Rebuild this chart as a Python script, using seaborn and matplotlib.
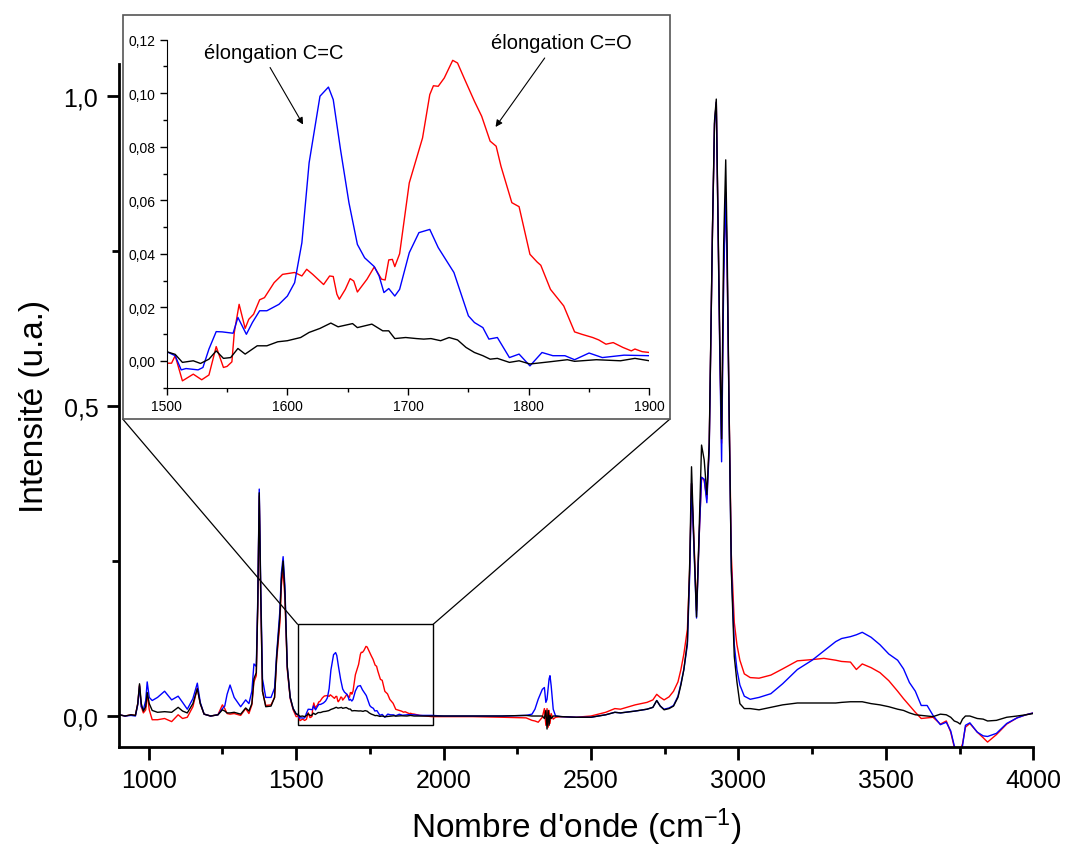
import matplotlib.pyplot as plt
import numpy as np
import seaborn as sns
from matplotlib.patches import Rectangle, ConnectionPatch
from matplotlib.ticker import MultipleLocator, FuncFormatter

# --- low wavenumber region (900-1490), shared grid ---
wn_low = [900, 920, 940, 955, 963, 969, 975, 982, 990, 995,
          1002, 1012, 1030, 1054, 1078, 1100, 1115, 1131, 1150, 1165,
          1175, 1188, 1210, 1235, 1250, 1258, 1266, 1276, 1290, 1312,
          1329, 1340, 1350, 1357, 1365, 1370, 1375, 1380, 1386, 1397,
          1415, 1427, 1434, 1445, 1450, 1456, 1462, 1470, 1480, 1490]
black_low = [0.002, 0.000, 0.002, 0.001, 0.020, 0.052, 0.020, 0.008, 0.015, 0.038,
             0.020, 0.009, 0.006, 0.007, 0.006, 0.014, 0.008, 0.005, 0.020, 0.044,
             0.020, 0.003, 0.000, 0.002, 0.010, 0.008, 0.005, 0.005, 0.006, 0.003,
             0.013, 0.008, 0.020, 0.060, 0.070, 0.180, 0.360, 0.200, 0.040, 0.015,
             0.016, 0.030, 0.095, 0.160, 0.220, 0.250, 0.200, 0.080, 0.030, 0.012]
blue_low = [0.002, 0.000, 0.001, 0.000, 0.018, 0.048, 0.015, 0.010, 0.025, 0.055,
            0.030, 0.025, 0.030, 0.040, 0.026, 0.032, 0.022, 0.011, 0.028, 0.053,
            0.022, 0.003, 0.000, 0.002, 0.012, 0.016, 0.035, 0.050, 0.030, 0.015,
            0.026, 0.020, 0.040, 0.084, 0.080, 0.190, 0.366, 0.210, 0.060, 0.030,
            0.030, 0.045, 0.100, 0.170, 0.230, 0.257, 0.210, 0.080, 0.030, 0.012]
red_low = [0.002, 0.000, 0.002, 0.001, 0.020, 0.050, 0.015, 0.005, 0.010, 0.036,
           0.010, -0.006, -0.006, -0.004, -0.009, 0.002, -0.004, -0.002, 0.015, 0.045,
           0.020, 0.003, 0.000, 0.002, 0.018, 0.012, 0.004, 0.003, 0.004, 0.001,
           0.012, 0.004, 0.018, 0.055, 0.065, 0.175, 0.355, 0.190, 0.040, 0.017,
           0.018, 0.030, 0.090, 0.150, 0.210, 0.237, 0.190, 0.075, 0.028, 0.010]

# --- 1500-1900 region (shown in the inset) ---
wn_mid_black = [1500, 1507, 1513, 1522, 1528, 1535, 1541, 1547, 1553, 1559,
                1565, 1575, 1583, 1592, 1600, 1611, 1618, 1627, 1636, 1642,
                1654, 1658, 1670, 1679, 1684, 1689, 1698, 1707, 1713, 1719,
                1727, 1734, 1741, 1748, 1755, 1762, 1768, 1774, 1784, 1792,
                1801, 1817, 1832, 1838, 1856, 1876, 1888, 1900]
black_mid = [0.0034, 0.0024, -0.0006, 0.0000, -0.0010, 0.0006, 0.0037, 0.0009, 0.0012, 0.0046,
             0.0025, 0.0056, 0.0056, 0.0071, 0.0075, 0.0087, 0.0106, 0.0121, 0.0141, 0.0127,
             0.0139, 0.0124, 0.0137, 0.0112, 0.0112, 0.0083, 0.0087, 0.0083, 0.0081, 0.0083,
             0.0075, 0.0087, 0.0078, 0.0050, 0.0031, 0.0019, 0.0006, 0.0009, -0.0006, 0.0000,
             -0.0012, -0.0004, 0.0004, -0.0002, 0.0004, 0.0000, 0.0009, 0.0000]

wn_mid_blue = [1500, 1507, 1512, 1516, 1526, 1530, 1535, 1541, 1546, 1555,
               1559, 1566, 1571, 1577, 1583, 1593, 1600, 1606, 1612, 1618,
               1627, 1634, 1638, 1644, 1651, 1658, 1664, 1672, 1676, 1680,
               1684, 1689, 1693, 1701, 1709, 1718, 1725, 1738, 1750, 1755,
               1762, 1767, 1774, 1784, 1792, 1801, 1811, 1820, 1830, 1838,
               1850, 1861, 1879, 1900]
blue_mid = [0.0034, 0.0019, -0.0034, -0.0029, -0.0034, -0.0025, 0.0044, 0.0109, 0.0108, 0.0103,
            0.0162, 0.0099, 0.0143, 0.0187, 0.0187, 0.0211, 0.0242, 0.0292, 0.0441, 0.0740,
            0.0989, 0.1023, 0.0976, 0.0790, 0.0591, 0.0435, 0.0385, 0.0352, 0.0317, 0.0255,
            0.0270, 0.0242, 0.0267, 0.0404, 0.0479, 0.0491, 0.0423, 0.0330, 0.0168, 0.0143,
            0.0124, 0.0081, 0.0087, 0.0012, 0.0025, -0.0019, 0.0031, 0.0019, 0.0019, 0.0004,
            0.0029, 0.0012, 0.0021, 0.0019]

wn_mid_red = [1500, 1504, 1507, 1513, 1522, 1529, 1535, 1541, 1547, 1550,
              1554, 1556, 1560, 1565, 1568, 1572, 1577, 1581, 1589, 1596,
              1606, 1612, 1616, 1621, 1630, 1635, 1638, 1641, 1643, 1648,
              1652, 1655, 1658, 1666, 1672, 1678, 1681, 1684, 1687, 1689,
              1693, 1701, 1712, 1718, 1721, 1725, 1730, 1737, 1741, 1747,
              1755, 1761, 1768, 1773, 1777, 1786, 1792, 1801, 1807, 1810,
              1818, 1829, 1838, 1844, 1853, 1858, 1864, 1870, 1878, 1885,
              1888, 1894, 1900]
red_mid = [-0.0009, -0.0009, 0.0019, -0.0075, -0.0050, -0.0071, -0.0053, 0.0053, -0.0025, -0.0021,
           -0.0004, 0.0106, 0.0211, 0.0121, 0.0155, 0.0174, 0.0228, 0.0236, 0.0292, 0.0323,
           0.0330, 0.0317, 0.0342, 0.0323, 0.0285, 0.0317, 0.0315, 0.0249, 0.0230, 0.0267,
           0.0307, 0.0298, 0.0257, 0.0305, 0.0351, 0.0305, 0.0302, 0.0377, 0.0379, 0.0352,
           0.0400, 0.0665, 0.0833, 0.0995, 0.1028, 0.1026, 0.1057, 0.1123, 0.1113, 0.1051,
           0.0970, 0.0914, 0.0821, 0.0802, 0.0727, 0.0591, 0.0576, 0.0398, 0.0369, 0.0357,
           0.0267, 0.0205, 0.0108, 0.0099, 0.0087, 0.0078, 0.0062, 0.0068, 0.0050, 0.0037,
           0.0044, 0.0034, 0.0031]

# --- high wavenumber region (1920-4000), shared grid ---
wn_high = [1920, 1960, 2000, 2100, 2200, 2280, 2300, 2310, 2321, 2335,
           2342, 2347, 2351, 2355, 2358, 2361, 2365, 2372, 2380, 2400,
           2450, 2500, 2550, 2581, 2600, 2650, 2690, 2710, 2723, 2735,
           2748, 2765, 2780, 2795, 2805, 2815, 2827, 2835, 2841, 2850,
           2858, 2867, 2875, 2884, 2893, 2901, 2912, 2919, 2925, 2931,
           2937, 2943, 2950, 2957, 2962, 2968, 2976, 2986, 2995, 3005,
           3020, 3040, 3070, 3110, 3150, 3200, 3250, 3290, 3330, 3350,
           3380, 3400, 3420, 3450, 3480, 3510, 3540, 3560, 3580, 3600,
           3620, 3640, 3660, 3685, 3705, 3720, 3732, 3743, 3752, 3760,
           3770, 3785, 3810, 3830, 3845, 3875, 3910, 3945, 3975, 4000]
black_high = [0.000, 0.000, 0.000, 0.000, 0.000, 0.001, 0.000, 0.000, 0.000, 0.000,
              -0.004, 0.009, -0.021, 0.009, -0.015, 0.001, -0.004, 0.000, 0.000, -0.001,
              -0.002, -0.002, 0.002, 0.006, 0.005, 0.008, 0.011, 0.014, 0.025, 0.016,
              0.010, 0.012, 0.016, 0.030, 0.050, 0.075, 0.120, 0.250, 0.402, 0.268,
              0.160, 0.302, 0.437, 0.413, 0.357, 0.440, 0.785, 0.960, 0.995, 0.800,
              0.600, 0.447, 0.760, 0.897, 0.750, 0.510, 0.234, 0.096, 0.055, 0.020,
              0.012, 0.012, 0.010, 0.014, 0.018, 0.021, 0.021, 0.021, 0.021, 0.022,
              0.023, 0.023, 0.023, 0.020, 0.018, 0.015, 0.011, 0.009, 0.005, 0.002,
              0.001, 0.000, -0.001, 0.003, 0.002, -0.002, -0.008, -0.010, -0.013, -0.005,
              0.000, 0.000, -0.004, -0.005, -0.008, -0.007, -0.002, 0.000, 0.002, 0.004]
blue_high = [0.001, 0.001, 0.000, 0.000, 0.000, 0.001, 0.003, 0.011, 0.027, 0.043,
             0.046, 0.022, 0.027, 0.045, 0.060, 0.065, 0.049, 0.011, 0.000, -0.001,
             -0.002, -0.002, 0.002, 0.006, 0.005, 0.008, 0.011, 0.014, 0.025, 0.016,
             0.011, 0.013, 0.017, 0.032, 0.052, 0.075, 0.115, 0.230, 0.375, 0.260,
             0.158, 0.290, 0.385, 0.382, 0.344, 0.430, 0.780, 0.955, 0.990, 0.790,
             0.580, 0.410, 0.700, 0.844, 0.720, 0.500, 0.240, 0.115, 0.075, 0.050,
             0.032, 0.027, 0.030, 0.036, 0.052, 0.075, 0.090, 0.105, 0.120, 0.125,
             0.128, 0.131, 0.135, 0.127, 0.115, 0.100, 0.090, 0.076, 0.054, 0.040,
             0.017, 0.017, 0.001, -0.014, -0.010, -0.024, -0.048, -0.060, -0.060, -0.048,
             -0.015, -0.011, -0.026, -0.032, -0.033, -0.028, -0.012, -0.003, 0.002, 0.005]
red_high = [0.001, -0.001, -0.001, -0.001, -0.002, -0.003, -0.007, -0.008, -0.010, -0.002,
            0.012, -0.015, 0.012, -0.018, 0.009, -0.012, 0.004, -0.005, -0.002, -0.001,
            -0.002, 0.000, 0.006, 0.012, 0.011, 0.018, 0.022, 0.026, 0.035, 0.030,
            0.026, 0.031, 0.040, 0.055, 0.075, 0.100, 0.140, 0.240, 0.375, 0.275,
            0.170, 0.290, 0.385, 0.380, 0.350, 0.435, 0.780, 0.955, 0.990, 0.795,
            0.590, 0.440, 0.720, 0.844, 0.720, 0.510, 0.260, 0.151, 0.115, 0.090,
            0.068, 0.062, 0.061, 0.066, 0.076, 0.089, 0.091, 0.093, 0.090, 0.088,
            0.087, 0.075, 0.084, 0.078, 0.070, 0.057, 0.040, 0.028, 0.017, 0.006,
            -0.004, -0.003, -0.002, -0.013, -0.008, -0.026, -0.050, -0.055, -0.055, -0.045,
            -0.018, -0.012, -0.026, -0.035, -0.042, -0.030, -0.013, -0.003, 0.002, 0.005]

wn_black = wn_low + wn_mid_black + wn_high
wn_blue = wn_low + wn_mid_blue + wn_high
wn_red = wn_low + wn_mid_red + wn_high
int_black = black_low + black_mid + black_high
int_blue = blue_low + blue_mid + blue_high
int_red = red_low + red_mid + red_high

sns.set_style('ticks')
plt.rcParams['font.family'] = ['Liberation Sans', 'DejaVu Sans']
plt.rcParams['mathtext.fontset'] = 'custom'
plt.rcParams['mathtext.rm'] = 'Liberation Sans'
plt.rcParams['mathtext.it'] = 'Liberation Sans:italic'
for key in ['text.color', 'axes.labelcolor', 'xtick.color', 'ytick.color', 'axes.edgecolor']:
    plt.rcParams[key] = 'black'

series = [(wn_red, int_red, 'red'), (wn_blue, int_blue, 'blue'), (wn_black, int_black, 'black')]
comma1 = FuncFormatter(lambda v, p: f'{v:.1f}'.replace('.', ','))
comma2 = FuncFormatter(lambda v, p: f'{v:.2f}'.replace('.', ','))

fig = plt.figure(figsize=(10.66, 8.54), dpi=100)

# main axes
ax = fig.add_axes([0.1118, 0.1241, 0.8575, 0.7998])
for x, y, c in series:
    sns.lineplot(x=x, y=y, color=c, lw=1.0, sort=False, estimator=None, ax=ax)
ax.set_xlim(900, 4000)
ax.set_ylim(-0.05, 1.0516)
ax.spines[['top', 'right']].set_visible(False)
for s in ['left', 'bottom']:
    ax.spines[s].set_linewidth(2)
ax.xaxis.set_major_locator(MultipleLocator(500))
ax.xaxis.set_minor_locator(MultipleLocator(250))
ax.yaxis.set_major_locator(MultipleLocator(0.5))
ax.yaxis.set_minor_locator(MultipleLocator(0.25))
ax.yaxis.set_major_formatter(comma1)
ax.tick_params(which='major', length=9, width=2, labelsize=18, pad=6)
ax.tick_params(which='minor', length=5, width=2)
ax.set_ylabel('Intensité (u.a.)', fontsize=24, labelpad=10)
ax.set_xlabel("Nombre d'onde (cm$^{-1}$)", fontsize=24, labelpad=10)

# zoom box on main chart
ax.add_patch(Rectangle((1505, -0.014), 460, 0.162, fill=False, edgecolor='black', lw=1.0))

# frame around the inset
frame = [0.1151, 0.5082, 0.5134, 0.4731]
fig.patches.append(Rectangle((frame[0], frame[1]), frame[2], frame[3], transform=fig.transFigure,
                             facecolor='white', edgecolor='#555555', lw=1.2, zorder=1))
for xa, xb in [(1505, frame[0]), (1965, frame[0] + frame[2])]:
    con = ConnectionPatch(xyA=(xa, 0.148), coordsA=ax.transData,
                          xyB=(xb, frame[1]), coordsB=fig.transFigure,
                          color='black', lw=0.9)
    fig.add_artist(con)

# inset
axin = fig.add_axes([0.1564, 0.5441, 0.4528, 0.4082], zorder=2)
axin.set_facecolor('none')
for x, y, c in series:
    sns.lineplot(x=x, y=y, color=c, lw=1.0, sort=False, estimator=None, ax=axin)
axin.set_xlim(1500, 1900)
axin.set_ylim(-0.0103, 0.12)
axin.spines[['top', 'right']].set_visible(False)
axin.xaxis.set_major_locator(MultipleLocator(100))
axin.xaxis.set_minor_locator(MultipleLocator(50))
axin.yaxis.set_major_locator(MultipleLocator(0.02))
axin.yaxis.set_minor_locator(MultipleLocator(0.01))
axin.yaxis.set_major_formatter(comma2)
axin.tick_params(which='major', length=5, width=1, labelsize=10, pad=3)
axin.tick_params(which='minor', length=3, width=1)

arrow = dict(arrowstyle='-|>', color='black', lw=0.8, mutation_scale=10, shrinkA=2, shrinkB=0)
axin.annotate('élongation C=C', xy=(1613, 0.0883), xytext=(1588.7, 0.1153),
              ha='center', va='center', fontsize=14.5,
              arrowprops=dict(arrow, relpos=(0.45, 0)))
axin.annotate('élongation C=O', xy=(1772.5, 0.0874), xytext=(1827, 0.1188),
              ha='center', va='center', fontsize=14.5,
              arrowprops=dict(arrow, relpos=(0.41, 0)))

plt.savefig('out.png', dpi=100)
